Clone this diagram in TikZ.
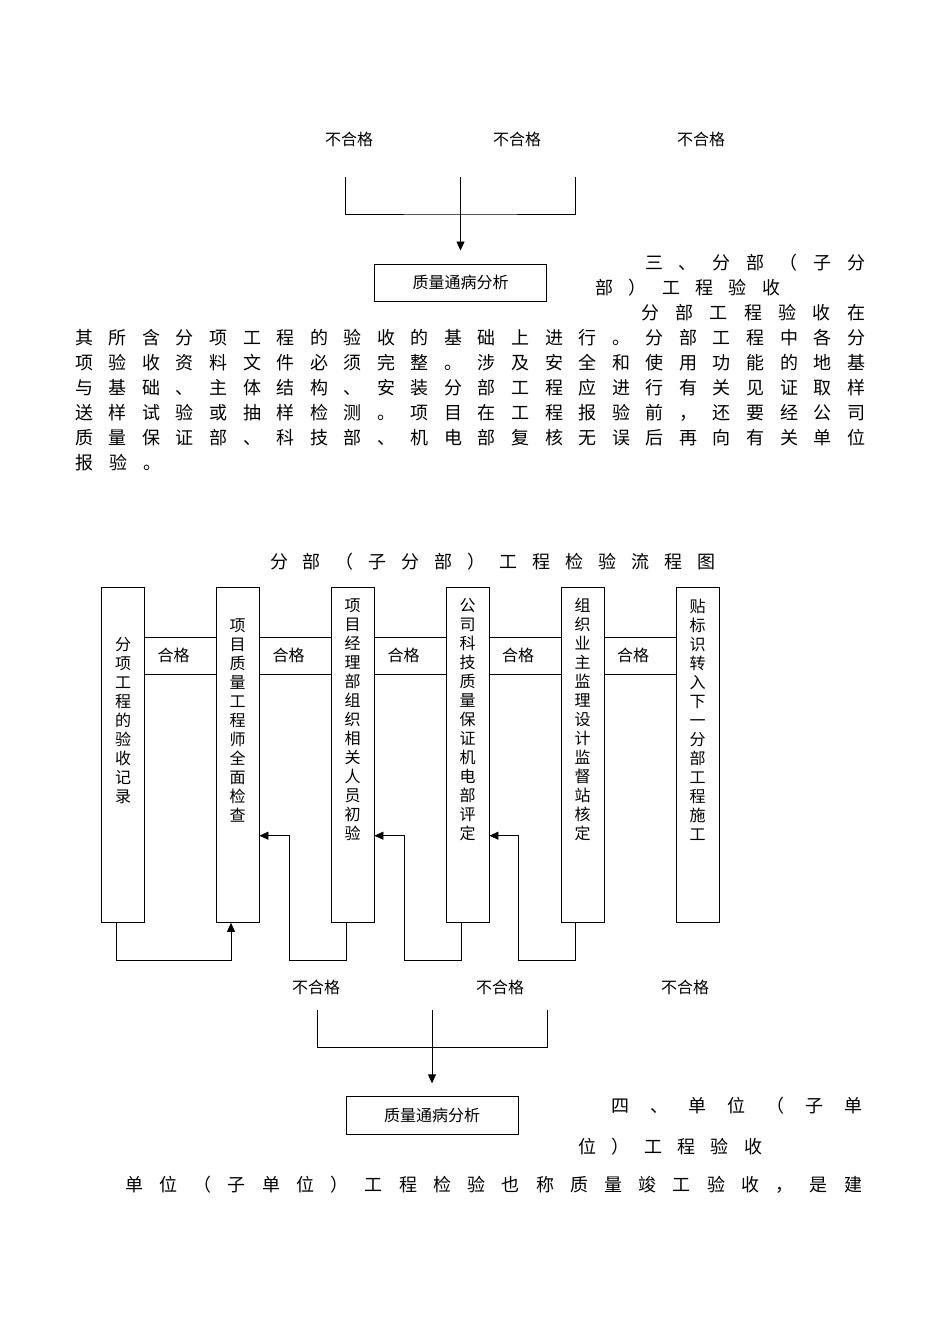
\documentclass[tikz,border=0pt]{standalone}
\usepackage{fontspec}
\setmainfont{Noto Sans CJK SC}
\usetikzlibrary{arrows.meta}
\tikzset{
    stage/.style={draw,line width=0.8pt,minimum width=43pt,minimum height=335.5pt,inner sep=0pt},
    vtext/.style={align=center,inner sep=0pt,font=\fontsize{16}{19}\selectfont},
    small/.style={inner sep=0pt,font=\fontsize{16}{18}\selectfont},
    body/.style={inner sep=0pt,anchor=west,font=\fontsize{18}{20}\selectfont},
    sumbox/.style={draw,line width=0.8pt,minimum width=172pt,minimum height=37.5pt,inner sep=0pt,font=\fontsize{16}{18}\selectfont},
    wire/.style={line width=0.8pt},
    arr/.style={wire,-{Triangle[length=9pt,width=8pt]}},
}
\newcommand{\spreadline}[2]{\makebox[#1][s]{#2}}

\begin{document}
\begin{tikzpicture}[x=1pt,y=-1pt]
\useasboundingbox (0,0) rectangle (950,1344);

% upper fragment
\node[small] (fa) at (349,139) {不合格};
\node[small] (fb) at (517,139) {不合格};
\node[small] (fc) at (701,139) {不合格};
\coordinate (ta) at (345,177);
\coordinate (tb) at (460.5,177);
\coordinate (tc) at (575,177);
\coordinate (tj) at (460.5,214);
\node[sumbox] (topsum) at (460.5,282.7) {质量通病分析};
\draw[wire] (ta) |- (tj) -| (tc);
\draw[wire] (tb) -- (tj);
\draw[arr,shorten >=13pt] (tj) -- (topsum.north);

\node[body] (h3a) at (645,263) {\spreadline{220pt}{三 、 分 部 （ 子 分}};
\node[body] (h3b) at (595,288) {\spreadline{185pt}{部 ） 工 程 验 收}};
\node[body] (p1) at (641,313) {\spreadline{224pt}{分 部 工 程 验 收 在}};
\node[body] (p2) at (75,338) {\spreadline{790pt}{其 所 含 分 项 工 程 的 验 收 的 基 础 上 进 行 。 分 部 工 程 中 各 分}};
\node[body] (p3) at (75,363) {\spreadline{790pt}{项 验 收 资 料 文 件 必 须 完 整 。 涉 及 安 全 和 使 用 功 能 的 地 基}};
\node[body] (p4) at (75,388) {\spreadline{790pt}{与 基 础 、 主 体 结 构 、 安 装 分 部 工 程 应 进 行 有 关 见 证 取 样}};
\node[body] (p5) at (75,413) {\spreadline{790pt}{送 样 试 验 或 抽 样 检 测 。 项 目 在 工 程 报 验 前 ， 还 要 经 公 司}};
\node[body] (p6) at (75,438) {\spreadline{790pt}{质 量 保 证 部 、 科 技 部 、 机 电 部 复 核 无 误 后 再 向 有 关 单 位}};
\node[body] (p7) at (75,463) {\spreadline{86pt}{报 验 。}};

% flow chart
\node[body,anchor=center] (title) at (492.5,562) {\spreadline{445pt}{分 部 （ 子 分 部 ） 工 程 检 验 流 程 图}};

\node[stage] (s1) at (123,754.7) {};
\node[stage] (s2) at (237.5,754.7) {};
\node[stage] (s3) at (352.5,754.7) {};
\node[stage] (s4) at (467.5,754.7) {};
\node[stage] (s5) at (582.5,754.7) {};
\node[stage] (s6) at (697.5,754.7) {};

\node[vtext] (t1) at (123,720.5) {分\\项\\工\\程\\的\\验\\收\\记\\录};
\node[vtext] (t2) at (237.5,721) {项\\目\\质\\量\\工\\程\\师\\全\\面\\检\\查};
\node[vtext] (t3) at (352.5,719.5) {项\\目\\经\\理\\部\\组\\织\\相\\关\\人\\员\\初\\验};
\node[vtext] (t4) at (467.5,719.5) {公\\司\\科\\技\\质\\量\\保\\证\\机\\电\\部\\评\\定};
\node[vtext] (t5) at (582.5,719.5) {组\\织\\业\\主\\监\\理\\设\\计\\监\\督\\站\\核\\定};
\node[vtext] (t6) at (697.5,719.5) {贴\\标\\识\\转\\入\\下\\一\\分\\部\\工\\程\\施\\工};

\foreach \a/\b/\x [count=\i] in {s1/s2/173.5,s2/s3/288.5,s3/s4/403.5,s4/s5/518,s5/s6/633}{
    \draw[wire] (\a.east |- 0,637) -- (\b.west |- 0,637);
    \draw[wire] (\a.east |- 0,674) -- (\b.west |- 0,674);
    \node[small] (ok\i) at (\x,655) {合格};
}

\draw[arr] ([xshift=-7pt]s1.south) -- ++(0,37.5) -| ([xshift=-6.5pt]s2.south);
\draw[arr] ([xshift=-6.5pt]s3.south) -- ++(0,37.5) -| (289,835.7) -- (s2.east |- 289,835.7);
\draw[arr] ([xshift=-6.5pt]s4.south) -- ++(0,37.5) -| (404,835.7) -- (s3.east |- 404,835.7);
\draw[arr] ([xshift=-7.5pt]s5.south) -- ++(0,37.5) -| (518,835.7) -- (s4.east |- 518,835.7);

% lower fragment
\node[small] (fd) at (316,987) {不合格};
\node[small] (fe) at (500,987) {不合格};
\node[small] (ff) at (685,987) {不合格};
\coordinate (ba) at (317,1010);
\coordinate (bb) at (432,1010);
\coordinate (bc) at (547,1010);
\coordinate (bj) at (432,1047);
\node[sumbox] (lowsum) at (432,1115.5) {质量通病分析};
\draw[wire] (ba) |- (bj) -| (bc);
\draw[wire] (bb) -- (bj);
\draw[arr,shorten >=13pt] (bj) -- (lowsum.north);

\node[body] (h4a) at (611,1106) {\spreadline{251pt}{四 、 单 位 （ 子 单}};
\node[body] (h4b) at (578,1147) {\spreadline{184pt}{位 ） 工 程 验 收}};
\node[body] (q1) at (125,1185) {\spreadline{737pt}{单 位 （ 子 单 位 ） 工 程 检 验 也 称 质 量 竣 工 验 收 ， 是 建}};
\end{tikzpicture}
\end{document}
